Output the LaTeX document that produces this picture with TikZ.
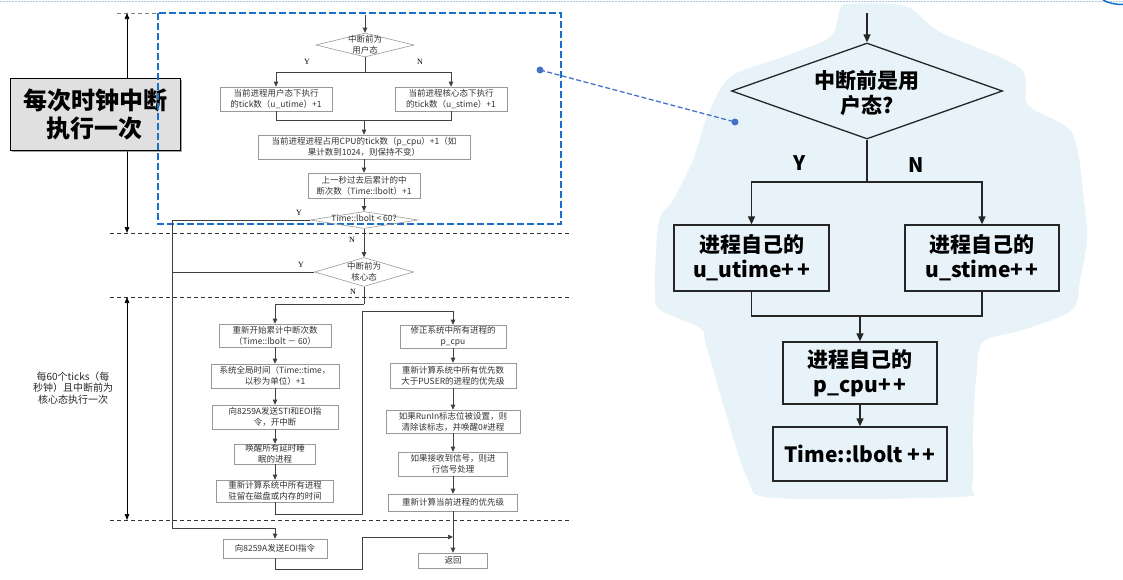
\documentclass[tikz,border=0pt]{standalone}
\usepackage{fontspec}
\newfontfamily\cjk{Noto Sans CJK SC}
\newfontfamily\lser{Liberation Serif}
\usetikzlibrary{arrows.meta,shapes.geometric,shadows}
\definecolor{blobblue}{RGB}{231,243,249}
\definecolor{dashblue}{RGB}{24,112,200}
\definecolor{linkblue}{RGB}{68,114,196}
\definecolor{topdot}{RGB}{170,200,225}
\newcommand{\pp}{+\kern2.5pt+}
\begin{document}
\begin{tikzpicture}[x=1pt,y=-1pt,
 lbox/.style={draw=black!40, line width=0.6pt, inner sep=0pt, align=center, font=\cjk\fontsize{8.5}{10.7}\selectfont, text=black!80},
 ldia/.style={diamond, draw=black!40, line width=0.6pt, inner sep=0pt},
 ltxt/.style={align=center, font=\cjk\fontsize{8.5}{10.7}\selectfont, text=black!80, inner sep=0pt},
 lyn/.style={font=\lser\fontsize{8}{9}\selectfont, inner sep=0pt},
 lline/.style={draw=black!75, line width=0.7pt},
 larr/.style={lline, -{Triangle[length=5pt,width=4.5pt]}},
 hdash/.style={draw=black!80, line width=0.6pt, dash pattern=on 4pt off 3pt},
 darr/.style={draw=black, line width=0.7pt, {Triangle[length=6pt,width=4.5pt]}-{Triangle[length=6pt,width=4.5pt]}},
 rbox/.style={draw=black!85, line width=1.3pt, align=center, inner sep=0pt, font=\cjk\bfseries\fontsize{21}{25}\selectfont},
 rline/.style={draw=black!85, line width=1.3pt},
 rarr/.style={rline, -{Triangle[length=8pt,width=7pt]}},
 ryn/.style={font=\cjk\bfseries\fontsize{20}{24}\selectfont, inner sep=0pt},
]
\useasboundingbox (0,0) rectangle (1123,579);

% top faint dotted line and corner arc
\draw[topdot, line width=1pt, dash pattern=on 1.5pt off 1.5pt] (0,1.5) -- (1123,1.5);
\draw[dashblue, line width=1.5pt] (1103,0) .. controls (1108,3) and (1115,4.5) .. (1123,4.5);

% right cloud blob
\fill[blobblue] plot[smooth cycle, tension=0.5] coordinates {
 (848,4) (905,6) (940,32) (1020,68) (1028,105) (1072,133) (1084,200) (1087,240)
 (1080,280) (1072,310) (1023,330) (983,342) (976,380) (973,430) (972,487) (958,497)
 (775,498) (748,480) (724,407) (706,345) (700,328) (660,310) (655,293) (656,250)
 (660,217) (673,200) (693,160) (707,117) (730,77) (783,57) (830,37) (840,10)};

% ---------- left annotations ----------
\draw[draw=black!50, line width=0.6pt, dash pattern=on 4pt off 3pt] (117,13) -- (160,13);
\draw[hdash] (110,233) -- (572,233);
\draw[hdash] (110,297) -- (572,297);
\draw[hdash] (110,520) -- (572,520);
\coordinate (a1) at (127,13);
\coordinate (a2) at (127,233);
\coordinate (a3) at (127,297);
\coordinate (a4) at (127,520);
\draw[darr] (a1) -- (a2);
\draw[darr] (a3) -- (a4);

\node[draw=black, line width=1pt, fill=black!12, minimum width=170pt, minimum height=72pt, inner sep=0pt,
      drop shadow={shadow xshift=2pt, shadow yshift=-2pt, fill=black!60, opacity=0.6},
      align=center, font=\cjk\bfseries\fontsize{24}{28}\selectfont] (once) at (95,114) {每次时钟中断\\执行一次};

\node[align=center, inner sep=0pt, font=\cjk\fontsize{10}{11.2}\selectfont, text=black!85] (per60) at (73,388)
  {每60个ticks（每\\秒钟）且中断前为\\核心态执行一次};

% blue dashed frame and link
\draw[dashblue, line width=1.8pt, dash pattern=on 7pt off 3pt] (158,13) rectangle (561,224);
\coordinate (p1) at (540,70);
\coordinate (p2) at (735,122);
\draw[linkblue, line width=1.3pt, dash pattern=on 5pt off 2.5pt] (p1) -- (p2);
\fill[linkblue] (p1) circle (3.5pt) (p2) circle (3.5pt);

% ---------- left flowchart ----------
\coordinate (t1) at (365,15);
\node[ldia, minimum width=98pt, minimum height=24pt] (d1) at (365,45) {};
\node[ltxt] (d1t) at (d1.center) {中断前为\\用户态};
\node[lyn] (d1y) at (307,62) {Y};
\node[lyn] (d1n) at (420,62) {N};

\node[lbox, minimum width=112pt, minimum height=24pt] (b1) at (276,99) {当前进程用户态下执行\\的tick数（u\_utime）+1};
\node[lbox, minimum width=112pt, minimum height=24pt] (b2) at (451,99) {当前进程核心态下执行\\的tick数（u\_stime）+1};
\node[lbox, minimum width=212pt, minimum height=24pt] (b3) at (364,147) {当前进程进程占用CPU的tick数（p\_cpu）+1（如\\果计数到1024，则保持不变）};
\node[lbox, minimum width=112pt, minimum height=25pt] (b4) at (364,185.5) {上一秒过去后累计的中\\断次数（Time::lbolt）+1};

\node[ldia, minimum width=108pt, minimum height=17pt] (d2) at (364,220) {};
\node[ltxt] (d2t) at (364,218.5) {Time::lbolt < 60?};
\node[lyn] (d2y) at (299,213) {Y};
\node[lyn] (d2n) at (352,240) {N};

\node[ldia, minimum width=99pt, minimum height=29pt] (d3) at (364,272) {};
\node[ltxt] (d3t) at (d3.center) {中断前为\\核心态};
\node[lyn] (d3y) at (301,265) {Y};
\node[lyn] (d3n) at (353,292) {N};

\node[lbox, minimum width=112pt, minimum height=23pt] (c1) at (275,335.5) {重新开始累计中断次数\\（Time::lbolt － 60）};
\node[lbox, minimum width=128pt, minimum height=24pt] (c2) at (275,376) {系统全局时间（Time::time，\\以秒为单位）+1};
\node[lbox, minimum width=126pt, minimum height=24pt] (c3) at (275,417) {向8259A发送STI和EOI指\\令，开中断};
\node[lbox, minimum width=81pt, minimum height=20pt] (c4) at (275,454) {唤醒所有延时睡\\眠的进程};
\node[lbox, minimum width=117pt, minimum height=22pt] (c5) at (275,491) {重新计算系统中所有进程\\驻留在磁盘或内存的时间};

\node[lbox, minimum width=106pt, minimum height=23pt] (r1) at (453,336.5) {修正系统中所有进程的\\p\_cpu};
\node[lbox, minimum width=126pt, minimum height=25pt] (r2) at (453,375.5) {重新计算系统中所有优先数\\大于PUSER的进程的优先级};
\node[lbox, minimum width=134pt, minimum height=23pt] (r3) at (453,421.5) {如果RunIn标志位被设置，则\\清除该标志，并唤醒0\#进程};
\node[lbox, minimum width=109pt, minimum height=24pt] (r4) at (453,464) {如果接收到信号，则进\\行信号处理};
\node[lbox, minimum width=129pt, minimum height=17pt] (r5) at (453,502.5) {重新计算当前进程的优先级};
\node[lbox, minimum width=69pt, minimum height=15pt] (ret) at (453,560.5) {返回};
\node[lbox, minimum width=104pt, minimum height=19pt] (eoi) at (275,548.5) {向8259A发送EOI指令};

\coordinate (j1) at (365,72);
\coordinate (j2) at (364,120);
\coordinate (j3) at (364,304);
\coordinate (y1) at (172,220);
\coordinate (y2) at (172,528);
\coordinate (y3) at (172,272);
\coordinate (k1) at (362,514);
\coordinate (k2) at (362,311);
\coordinate (k3) at (362,569);
\coordinate (k4) at (362,537);
\coordinate (k5) at (453,537);

\draw[larr] (t1) -- (d1.north);
\draw[lline] (d1.south) -- (j1);
\draw[larr] (j1) -| (b1.north);
\draw[larr] (j1) -| (b2.north);
\draw[lline] (b1.south) |- (j2);
\draw[lline] (b2.south) |- (j2);
\draw[larr] (j2) -- (b3.north);
\draw[larr] (b3.south) -- (b4.north);
\draw[larr] (b4.south) -- (d2.north);
\draw[larr] (d2.south) -- (d3.north);
\draw[larr] (d2.west) -- (y1) -- (y2) -| (eoi.north);
\draw[lline] (d3.west) -- (y3);
\draw[lline] (d3.south) -- (j3);
\draw[larr] (j3) -| (c1.north);
\draw[larr] (c1) -- (c2);
\draw[larr] (c2) -- (c3);
\draw[larr] (c3) -- (c4);
\draw[larr] (c4) -- (c5);
\draw[larr] (c5.south) |- (k1) -- (k2) -| (r1.north);
\draw[larr] (r1) -- (r2);
\draw[larr] (r2) -- (r3);
\draw[larr] (r3) -- (r4);
\draw[larr] (r4) -- (r5);
\draw[larr] (r5) -- (ret);
\draw[larr] (eoi.south) |- (k3) -- (k4) -- (k5);

% ---------- right flowchart ----------
\coordinate (rt0) at (867,13);
\node[diamond, draw=black!85, line width=1.3pt, inner sep=0pt, minimum width=271pt, minimum height=96pt] (rd) at (867,91) {};
\node[align=center, inner sep=0pt, font=\cjk\bfseries\fontsize{21}{25}\selectfont] (rdt) at (867,93) {中断前是用\\户态?};
\node[ryn] (ry) at (800,163) {Y};
\node[ryn] (rn) at (916,165) {N};
\node[rbox, minimum width=155pt, minimum height=66pt] (ru) at (751.5,258) {进程自己的\\u\_utime\pp};
\node[rbox, minimum width=154pt, minimum height=66pt] (rs) at (982,258) {进程自己的\\u\_stime\pp};
\node[rbox, minimum width=154pt, minimum height=62pt] (rp) at (860,373) {进程自己的\\p\_cpu\pp};
\node[rbox, minimum width=174pt, minimum height=54pt] (rt) at (860,454) {Time::lbolt \pp};

\coordinate (rj1) at (867,182);
\coordinate (rj2) at (860,316);
\draw[rarr] (rt0) -- (rd.north);
\draw[rline] (rd.south) -- (rj1);
\draw[rarr] (rj1) -| (ru.north);
\draw[rarr] (rj1) -| (rs.north);
\draw[rline] (ru.south) |- (rj2);
\draw[rline] (rs.south) |- (rj2);
\draw[rarr] (rj2) -- (rp.north);
\draw[rarr] (rp) -- (rt);
\end{tikzpicture}
\end{document}
